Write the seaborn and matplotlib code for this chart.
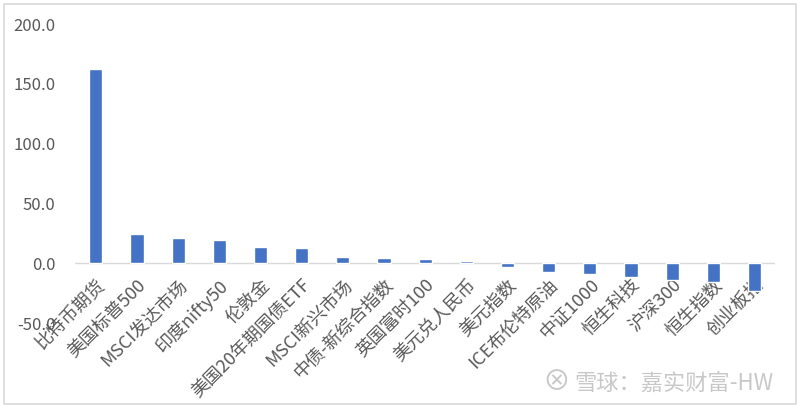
import seaborn as sns
import matplotlib.pyplot as plt
import pandas as pd

# categories and values
names = ['比特币期货', '美国标普500', 'MSCI发达市场', '印度nifty50', '伦敦金',
         '美国20年期国债ETF', 'MSCI新兴市场', '中债-新综合指数', '英国富时100',
         '美元兑人民币', '美元指数', 'ICE布伦特原油', '中证1000', '恒生科技',
         '沪深300', '恒生指数', '创业板指']
returns = [162.3, 24.3, 21.5, 19.2, 14.0, 13.1, 5.6, 4.2, 3.6, 2.2,
           -2.8, -7.2, -9.2, -11.7, -14.2, -15.9, -22.8]
yticks = [-50, 0, 50, 100, 150, 200]

df = pd.DataFrame({'name': names, 'ret': returns})

sns.set_style('white')
plt.rcParams['font.family'] = ['Noto Sans CJK SC', 'DejaVu Sans']

fig = plt.figure(figsize=(8, 4.08), dpi=100)
ax = fig.add_axes([0.094, 0.208, 0.875, 0.733])

sns.barplot(data=df, x='name', y='ret', color='#4472C4', width=0.32,
            saturation=1, ax=ax)

ax.axhline(0, color='#D9D9D9', lw=1, zorder=0)
ax.set_xlim(-0.5, len(names) - 0.5)
ax.set_ylim(-50, 200)
ax.set_yticks(yticks)
ax.set_yticklabels([f'{v:.1f}' for v in yticks], fontsize=12, color='#595959')
ax.set_xticks(range(len(names)))
ax.set_xticklabels(names, rotation=45, ha='right', rotation_mode='anchor',
                   fontsize=13, color='#595959')
ax.tick_params(axis='x', length=0, pad=-34)
ax.tick_params(axis='y', length=0, pad=14)
ax.set_xlabel('')
ax.set_ylabel('')
for s in ax.spines.values():
    s.set_visible(False)

# watermark and frame
fig.text(0.678, 0.043, '⊗', fontsize=20, color='#C8C8C8')
fig.text(0.718, 0.045, '雪球：嘉实财富-HW', fontsize=16, color='#C8C8C8')
fig.patches.append(plt.Rectangle((0.005, 0.01), 0.99, 0.98, transform=fig.transFigure,
                                 fill=False, edgecolor='#D9D9D9', lw=1.2))

fig.savefig('out.png', dpi=100)
